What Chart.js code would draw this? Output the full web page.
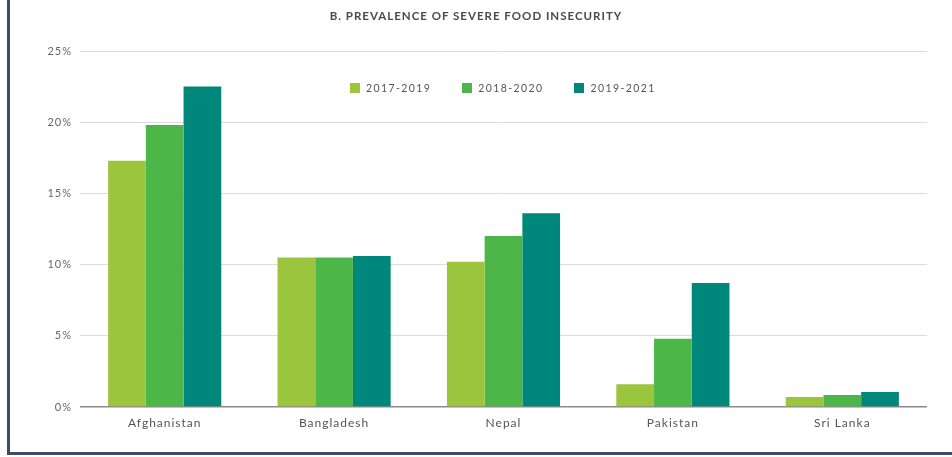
<!DOCTYPE html>
<html>
<head>
<meta charset="utf-8">
<script src="https://cdn.jsdelivr.net/npm/chart.js@4"></script>
<style>
  html, body { margin: 0; padding: 0; background: #fff; }
  #wrap { position: relative; width: 952px; height: 457px; overflow: hidden; }
  #chart { position: absolute; left: 0; top: 0; }
  #title { position: absolute; left: 0; top: 9px; width: 952px; text-align: center; font-family: Lato, sans-serif; font-size: 11.5px; font-weight: bold; letter-spacing: 1px; color: #4a4a4a; }
  .frame-left { position: absolute; left: 7px; top: 0; width: 3px; height: 455px; background: #3e4c65; }
  .frame-bottom { position: absolute; left: 7px; top: 452px; width: 945px; height: 3px; background: #3e4c65; }
  #legend { position: absolute; left: 350px; top: 82px; display: flex; font-family: Lato, sans-serif; font-size: 10.5px; color: #555; letter-spacing: 1.4px; }
  #legend .item { display: flex; align-items: center; margin-right: 31px; }
  #legend .box { width: 10px; height: 10px; margin-right: 6px; }
</style>
</head>
<body>
<div id="wrap">
  <canvas id="chart" width="952" height="457"></canvas>
  <div id="title"></div>
  <div id="legend"></div>
  <div class="frame-left"></div>
  <div class="frame-bottom"></div>
</div>
<script>
// Data
const titleText = 'B. PREVALENCE OF SEVERE FOOD INSECURITY';
const countries = ['Afghanistan', 'Bangladesh', 'Nepal', 'Pakistan', 'Sri Lanka'];
const seriesNames = ['2017-2019', '2018-2020', '2019-2021'];
const seriesColors = ['#9bc53d', '#4db649', '#00877b'];
const values2017 = [17.3, 10.5, 10.2, 1.6, 0.7];
const values2018 = [19.8, 10.5, 12.0, 4.8, 0.85];
const values2019 = [22.5, 10.6, 13.6, 8.7, 1.05];
const yTickValues = [0, 5, 10, 15, 20, 25];

const seriesValues = [values2017, values2018, values2019];

document.getElementById('title').textContent = titleText;

// HTML legend placed inside the plot area
const legendEl = document.getElementById('legend');
seriesNames.forEach((name, i) => {
  const item = document.createElement('div');
  item.className = 'item';
  const box = document.createElement('span');
  box.className = 'box';
  box.style.background = seriesColors[i];
  const label = document.createElement('span');
  label.textContent = name;
  item.appendChild(box);
  item.appendChild(label);
  legendEl.appendChild(item);
});

// letter spacing for all canvas text (the original type is loosely set)
const spacingPlugin = {
  id: 'spacing',
  beforeDraw(chart) {
    chart.ctx.letterSpacing = '1px';
  }
};

const ctx = document.getElementById('chart');
new Chart(ctx, {
  type: 'bar',
  data: {
    labels: countries,
    datasets: seriesNames.map((name, i) => ({
      label: name,
      data: seriesValues[i],
      backgroundColor: seriesColors[i],
      borderWidth: 0,
      barPercentage: 1,
      categoryPercentage: 0.668
    }))
  },
  options: {
    responsive: false,
    animation: false,
    layout: {
      padding: { top: 51, right: 25, bottom: 0, left: 0 }
    },
    plugins: {
      legend: { display: false },
      tooltip: { enabled: false },
      title: { display: false }
    },
    scales: {
      x: {
        grid: { display: false, drawTicks: false },
        border: { display: false },
        ticks: {
          color: '#555',
          font: { family: 'Lato', size: 12 },
          padding: 9
        },
        afterFit(scale) {
          scale.height = 50;
        }
      },
      y: {
        min: 0,
        max: 25,
        afterBuildTicks(scale) {
          scale.ticks = yTickValues.map(v => ({ value: v }));
        },
        grid: {
          drawTicks: false,
          color: c => (c.tick && c.tick.value === 0 ? '#8a8a8a' : '#dcdcdc'),
          lineWidth: c => (c.tick && c.tick.value === 0 ? 1.5 : 1)
        },
        border: { display: false },
        ticks: {
          color: '#666',
          font: { family: 'Lato', size: 11 },
          padding: 8,
          callback: v => v + '%'
        },
        afterFit(scale) {
          scale.width = 80;
        }
      }
    }
  },
  plugins: [spacingPlugin]
});
</script>
</body>
</html>
